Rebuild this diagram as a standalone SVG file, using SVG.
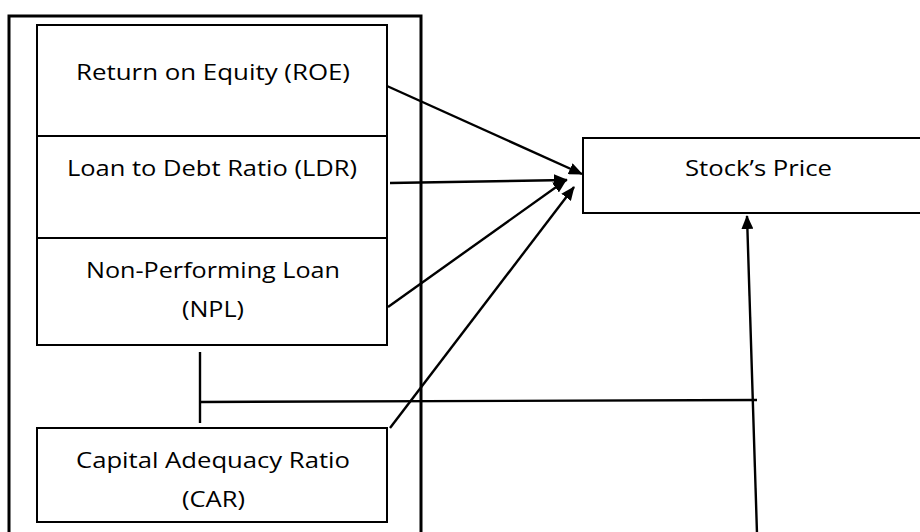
<svg xmlns="http://www.w3.org/2000/svg" width="920" height="532" viewBox="0 0 920 532">
<style>
.box{fill:#fff;stroke:#000;stroke-width:2}
.outer{fill:none;stroke:#000;stroke-width:3}
.lbl{font-family:"Open Sans","Liberation Sans",sans-serif;font-size:22px;fill:#000}
.ln{fill:none;stroke:#000;stroke-width:2.4}
.arr{fill:none;stroke:#000;stroke-width:2.4;marker-end:url(#ah)}
</style>
<defs>
<marker id="ah" viewBox="0 0 14 12" refX="13" refY="6" markerWidth="14" markerHeight="12" markerUnits="userSpaceOnUse" orient="auto">
<path d="M0,0 L14,6 L0,12 Z" fill="#000"/>
</marker>
</defs>
<rect width="920" height="532" fill="#fff"/>
<g id="container">
<path class="outer" d="M9,535 V16 H421 V535"/>
</g>
<g id="roe">
<rect class="box" x="37" y="25" width="350" height="111"/>
<text class="lbl" x="76" y="80" textLength="274" lengthAdjust="spacingAndGlyphs">Return on Equity (ROE)</text>
</g>
<g id="ldr">
<rect class="box" x="37" y="136" width="350" height="102"/>
<text class="lbl" x="67" y="176" textLength="290" lengthAdjust="spacingAndGlyphs">Loan to Debt Ratio (LDR)</text>
</g>
<g id="npl">
<rect class="box" x="37" y="238" width="350" height="107"/>
<text class="lbl" x="86" y="278" textLength="254" lengthAdjust="spacingAndGlyphs">Non-Performing Loan</text>
<text class="lbl" x="182" y="317" textLength="62" lengthAdjust="spacingAndGlyphs">(NPL)</text>
</g>
<g id="car">
<rect class="box" x="37" y="428" width="350" height="94"/>
<text class="lbl" x="76" y="468" textLength="274" lengthAdjust="spacingAndGlyphs">Capital Adequacy Ratio</text>
<text class="lbl" x="182" y="507" textLength="63" lengthAdjust="spacingAndGlyphs">(CAR)</text>
</g>
<g id="stock">
<rect class="box" x="583" y="138" width="350" height="75"/>
<text class="lbl" x="685" y="176" textLength="147" lengthAdjust="spacingAndGlyphs">Stock’s Price</text>
</g>
<g id="connectors">
<line class="arr" x1="387" y1="86" x2="582" y2="174"/>
<line class="arr" x1="390" y1="183" x2="567" y2="180"/>
<line class="arr" x1="388" y1="307" x2="566" y2="180"/>
<line class="arr" x1="390" y1="428" x2="574" y2="187"/>
<line class="ln" x1="200" y1="352" x2="200" y2="423"/>
<line class="ln" x1="201" y1="402" x2="757" y2="400"/>
<line class="arr" x1="757" y1="534" x2="747" y2="216"/>
</g>
</svg>
